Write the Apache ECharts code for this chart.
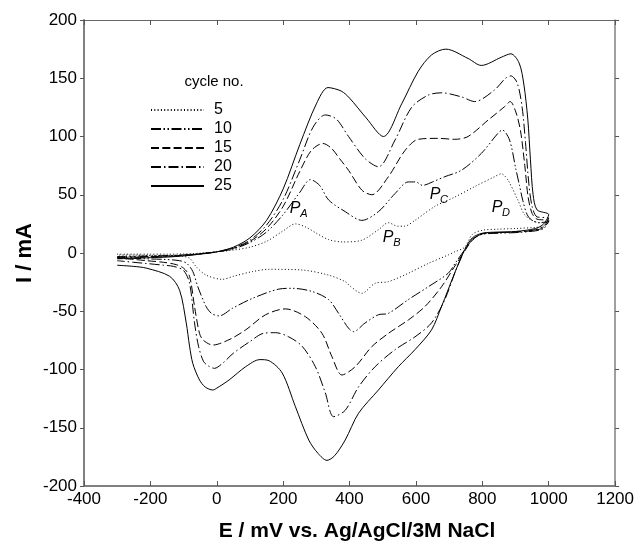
<!DOCTYPE html>
<html><head><meta charset="utf-8">
<script src="https://cdn.jsdelivr.net/npm/echarts@6/dist/echarts.min.js"></script>
<style>html,body{margin:0;padding:0;background:#fff}#c{width:637px;height:547px}</style>
</head><body><div id="c"></div>
<script>
// Cyclic voltammograms: [E (mV), I (mA)] pairs, anodic (forward) then cathodic (reverse)
const legendNames = ['5', '10', '15', '20', '25'];

const c5Anodic = [[-300,-1],[-250,-1],[-200,-1],[-150,-1],[-100,-0.8],[-50,-0.2],[0,1],[50,2.5],[100,5],[150,10],[200,19],[237,25],[270,22],[300,17],[337,11.5],[380,9.5],[437,11],[487,20],[517,26],[545,23],[565,23],[597,28],[657,40],[717,48],[777,57],[837,65.5],[857,68],[877,62.7],[907,45.5],[927,33],[950,28],[975,26],[1000,27]];
const c5Cathodic = [[985,23],[960,22],[900,21],[850,20.5],[800,19.5],[770,16],[747,5],[717,1],[697,-1.7],[637,-9],[577,-17.4],[517,-24.6],[477,-26],[437,-34.6],[400,-28],[387,-24.6],[337,-19],[257,-14.6],[157,-14],[107,-16],[50,-20],[17,-22.6],[-32,-19],[-62,-11.8],[-82,-4.5],[-110,-2.5],[-150,-2],[-200,-2],[-250,-1.8],[-300,-1.7]];

const c10Anodic = [[-300,-3],[-250,-2.8],[-200,-2.5],[-150,-2.2],[-100,-1.6],[-50,-0.5],[0,1],[50,3.5],[100,9],[150,18],[200,33],[250,52],[282,63],[310,58],[337,45.5],[387,35.5],[437,28],[487,35.5],[537,51],[577,61],[600,61],[620,58],[650,61],[687,65.5],[737,71],[797,85.5],[847,102.7],[860,105.6],[882,97],[901,72],[912,58],[922,45],[935,33],[950,28],[970,26],[1000,27]];
const c10Cathodic = [[985,21],[960,19],[900,17.5],[850,17],[800,16],[770,12],[750,4],[720,-8],[697,-17.4],[637,-29],[577,-40],[517,-51.8],[487,-53],[447,-60],[412,-67.5],[397,-64.6],[367,-51.8],[337,-40],[287,-33],[227,-30.3],[187,-31],[107,-39],[47,-47.5],[7,-54],[-15,-52],[-32,-46],[-57,-29],[-72,-16],[-90,-9],[-112,-6.6],[-160,-5.5],[-212,-5],[-250,-4.5],[-300,-4]];

const c15Anodic = [[-300,-3.5],[-250,-3.3],[-200,-3],[-150,-2.7],[-100,-2],[-50,-0.7],[0,1],[50,4],[100,10],[150,21],[200,40],[250,70],[285,88],[320,94],[345,90],[370,81],[397,71],[437,54],[467,50],[517,65.5],[567,88],[607,97.6],[667,98.4],[717,97.6],[757,100],[817,114],[867,125.6],[884,130],[901,121],[915,105],[928,75],[938,48],[950,34],[965,29],[1000,28]];
const c15Cathodic = [[985,22],[960,19.5],[900,18],[850,17.5],[800,16.5],[770,11],[750,3],[720,-10],[677,-29],[627,-46],[577,-57.5],[517,-69],[467,-80.4],[417,-97.6],[377,-104.7],[347,-89],[317,-69],[267,-54.7],[207,-48],[147,-53],[87,-66],[40,-74],[-12,-79],[-40,-75],[-52,-69],[-67,-46],[-82,-20],[-100,-13],[-122,-10],[-160,-8],[-212,-6.6],[-250,-5.5],[-300,-4.6]];

const c20Anodic = [[-300,-4],[-250,-3.8],[-200,-3.5],[-150,-3],[-100,-2.2],[-50,-0.8],[0,1],[50,4.5],[100,11],[150,24],[200,46],[250,80],[290,108],[327,118.5],[360,115],[397,100],[447,81],[487,74],[537,97],[587,125],[637,135.5],[677,137.5],[737,134],[777,130],[837,140],[870,150],[886,152],[905,146],[920,125],[930,95],[940,60],[950,40],[965,31],[1000,30]];
const c20Cathodic = [[985,23],[960,20],[900,18],[850,17.5],[800,16.5],[770,11],[750,4],[720,-15],[687,-40],[647,-60],[597,-72],[537,-83],[477,-97.6],[427,-115],[387,-135],[352,-140.5],[327,-120],[297,-97.6],[257,-80],[217,-72],[177,-68.4],[140,-69],[100,-76],[50,-86],[20,-94],[-7,-99],[-25,-97],[-40,-93],[-55,-80],[-67,-60],[-82,-26],[-100,-15],[-130,-11.5],[-160,-10.5],[-212,-9],[-250,-8],[-300,-6.6]];

const c25Anodic = [[-300,-5],[-250,-4.5],[-200,-4],[-150,-3.5],[-100,-2.5],[-50,-1],[0,1],[50,5],[100,13],[150,28],[200,55],[250,93],[300,128],[335,142],[375,139],[400,133],[450,116],[502,100],[557,128],[607,156],[647,170],[690,175],[757,167],[797,161],[857,168],[886,171],[911,163],[925,145],[937,115],[945,80],[953,50],[965,37],[1000,33]];
const c25Cathodic = [[985,25],[960,21],[900,18.5],[850,18],[800,17],[770,13],[747,3],[717,-17],[677,-46],[647,-66],[597,-83],[547,-97.6],[487,-117.6],[427,-137.6],[387,-160.5],[355,-174],[332,-178],[305,-172],[277,-160.5],[237,-132],[197,-103],[157,-92.4],[130,-91.5],[87,-97.6],[37,-109],[0,-116],[-12,-117.6],[-35,-115],[-52,-109],[-72,-95],[-82,-80],[-92,-60],[-112,-32],[-142,-20],[-212,-13],[-250,-11.5],[-300,-10.5]];

const curves = [
  [c5Anodic, c5Cathodic],
  [c10Anodic, c10Cathodic],
  [c15Anodic, c15Cathodic],
  [c20Anodic, c20Cathodic],
  [c25Anodic, c25Cathodic]
];
const dashes = [[1, 2.3], [10, 2.5, 1.5, 2.5, 1.5, 2.5], [8, 3.3], [10, 3, 1.5, 3], 'solid'];

const FONT = "'Liberation Sans', Arial, sans-serif";
const chart = echarts.init(document.getElementById('c'), null, {renderer: 'canvas'});

const series = curves.map((c, i) => ({
  name: legendNames[i],
  type: 'line',
  xAxisIndex: 0, yAxisIndex: 0,
  data: c[0].concat(c[1]),
  symbol: 'none',
  showSymbol: false,
  smooth: 0.3,
  animation: false,
  color: '#000',
  lineStyle: {color: '#000', width: 1, type: dashes[i]},
  z: 3 + i
}));

const axisCommonX = {type: 'value', min: -400, max: 1200, interval: 200, splitLine: {show: false}};
const axisCommonY = {type: 'value', min: -200, max: 200, interval: 50, splitLine: {show: false}};

function txt(x, y, s, size, extra) {
  return Object.assign({type: 'text', x: x, y: y, style: {text: s, font: (extra && extra.font) || (size + 'px ' + FONT), fill: '#000', align: 'center', verticalAlign: 'middle'}}, extra && extra.el ? extra.el : {});
}
const plainLabel = v => String(v);

chart.setOption({
  backgroundColor: '#fff',
  animation: false,
  grid: {left: 84, top: 20, right: 19, bottom: 61, containLabel: false},
  legend: {
    orient: 'vertical', left: 150, top: 102, padding: 0,
    itemWidth: 53, itemHeight: 14, itemGap: 3,
    selectedMode: false,
    itemStyle: {opacity: 0},
    textStyle: {fontSize: 16, color: '#000', fontFamily: FONT, padding: [0, 0, 0, 5]},
    data: legendNames
  },
  xAxis: [
    Object.assign({}, axisCommonX, {
      position: 'bottom',
      axisLine: {onZero: false, lineStyle: {color: '#808080', width: 2}},
      axisTick: {inside: true, length: 5, lineStyle: {color: '#555', width: 1}},
      axisLabel: {fontSize: 17, color: '#000', fontFamily: FONT, margin: 5, formatter: plainLabel}
    }),
    Object.assign({}, axisCommonX, {
      position: 'top',
      axisLine: {onZero: false, lineStyle: {color: '#666', width: 1.2}},
      axisTick: {inside: true, length: 5, lineStyle: {color: '#555', width: 1}},
      axisLabel: {show: false}
    })
  ],
  yAxis: [
    Object.assign({}, axisCommonY, {
      position: 'left',
      axisLine: {onZero: false, lineStyle: {color: '#808080', width: 2}},
      axisTick: {inside: false, length: 4, lineStyle: {color: '#555', width: 1}},
      axisLabel: {fontSize: 17, color: '#000', fontFamily: FONT, margin: 7, formatter: plainLabel}
    }),
    Object.assign({}, axisCommonY, {
      position: 'right',
      axisLine: {onZero: false, lineStyle: {color: '#808080', width: 1.5}},
      axisTick: {inside: false, length: 4, lineStyle: {color: '#555', width: 1}},
      axisLabel: {show: false}
    })
  ],
  graphic: [
    txt(357, 531, 'E / mV vs. Ag/AgCl/3M NaCl', 21, {font: 'bold 21px ' + FONT}),
    txt(25, 253, 'I / mA', 22, {font: 'bold 22px ' + FONT, el: {rotation: Math.PI / 2}}),
    txt(214, 82, 'cycle no.', 15),
    txt(295, 209, 'P', 16, {font: 'italic 16px ' + FONT}),
    txt(304, 214, 'A', 11, {font: 'italic 11px ' + FONT}),
    txt(388, 238, 'P', 16, {font: 'italic 16px ' + FONT}),
    txt(397, 243, 'B', 11, {font: 'italic 11px ' + FONT}),
    txt(435, 195, 'P', 16, {font: 'italic 16px ' + FONT}),
    txt(444, 200, 'C', 11, {font: 'italic 11px ' + FONT}),
    txt(497, 208, 'P', 16, {font: 'italic 16px ' + FONT}),
    txt(506, 213, 'D', 11, {font: 'italic 11px ' + FONT})
  ],
  series: series
});
</script>
</body></html>
